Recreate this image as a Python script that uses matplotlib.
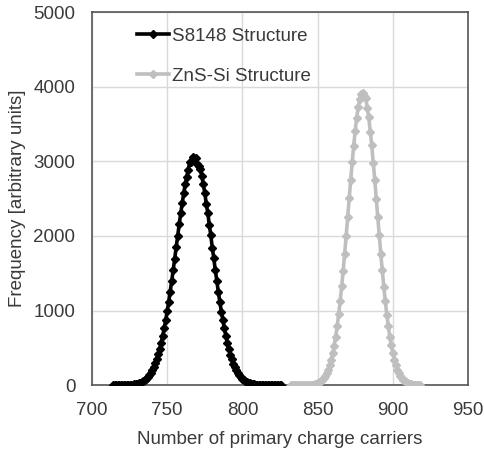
import matplotlib
matplotlib.use("Agg")
import matplotlib.pyplot as plt

# S8148 structure: charge carriers 714..826 (step 1)
s8148_x = list(range(714, 827))
s8148_y = [0, 0, 0, 0, 0, 0, 1, 1, 2, 3, 4, 5, 7, 9, 12, 16, 20, 26, 34, 43,
           55, 70, 87, 108, 134, 164, 200, 243, 292, 348, 413, 486, 568, 660, 761, 871,
           990, 1118, 1254, 1396, 1544, 1696, 1850, 2004, 2155, 2302, 2442, 2573, 2692,
           2796, 2885, 2990, 2985, 3060, 3020, 3045, 2970, 2940, 2900, 2806, 2690, 2580,
           2430, 2310, 2150, 2010, 1840, 1700, 1540, 1400, 1250, 1120, 985, 875, 760,
           662, 565, 488, 410, 350, 290, 245, 198, 166, 132, 110, 86, 71, 54, 44, 33,
           27, 20, 16, 12, 9, 7, 5, 4, 3, 2, 1, 1, 0, 0, 0, 0, 0, 0, 0, 0, 0, 0]

# ZnS-Si structure: charge carriers 832..918 (step 1)
zns_x = list(range(832, 919))
zns_y = [0, 0, 0, 0, 0, 0, 0, 0, 0, 0, 1, 2, 3, 4, 7, 9, 13, 19, 27, 37, 51, 69,
         93, 123, 161, 209, 268, 341, 427, 531, 651, 791, 949, 1127, 1324, 1537,
         1765, 2005, 2253, 2503, 2750, 2988, 3211, 3413, 3587, 3729, 3834, 3898, 3920,
         3880, 3850, 3720, 3590, 3400, 3215, 2980, 2755, 2500, 2250, 2010, 1760,
         1540, 1320, 1130, 945, 795, 648, 533, 425, 343, 266, 210, 160, 124, 92, 70,
         50, 38, 27, 19, 13, 9, 7, 4, 3, 2, 1]

plt.rcParams['font.family'] = ['Liberation Sans', 'DejaVu Sans']
fig = plt.figure(figsize=(4.84, 4.5), dpi=100)
ax = fig.add_axes([0.19, 0.144, 0.777, 0.829])

ax.plot(s8148_x, s8148_y, color='black', lw=2.6, marker='D', ms=3.6,
        label='S8148 Structure', zorder=3)
ax.plot(zns_x, zns_y, color='#bfbfbf', lw=2.6, marker='D', ms=3.6,
        label='ZnS-Si Structure', zorder=3)

ax.set_xlim(700, 950)
ax.set_ylim(0, 5000)
ax.set_xticks([700, 750, 800, 850, 900, 950])
ax.set_yticks([0, 1000, 2000, 3000, 4000, 5000])
ax.grid(True, color='#d9d9d9', lw=1)
ax.set_axisbelow(True)
ax.tick_params(length=0, labelsize=13.5, labelcolor='#3a3a3a')
ax.tick_params(axis='x', pad=12)
ax.tick_params(axis='y', pad=12)
for sp in ax.spines.values():
    sp.set_color('#555555')
    sp.set_linewidth(1.2)

ax.set_xlabel('Number of primary charge carriers', fontsize=13.5, color='#3a3a3a',
              labelpad=9)
ax.set_ylabel('Frequency [arbitrary units]', fontsize=13.5, color='#3a3a3a',
              labelpad=5)

ax.legend(loc='upper left', bbox_to_anchor=(0.075, 1.003), frameon=False,
          fontsize=13.5, labelspacing=1.2, handlelength=1.7, handletextpad=0.15,
          labelcolor='#3a3a3a')

fig.savefig('out.png', dpi=100)
